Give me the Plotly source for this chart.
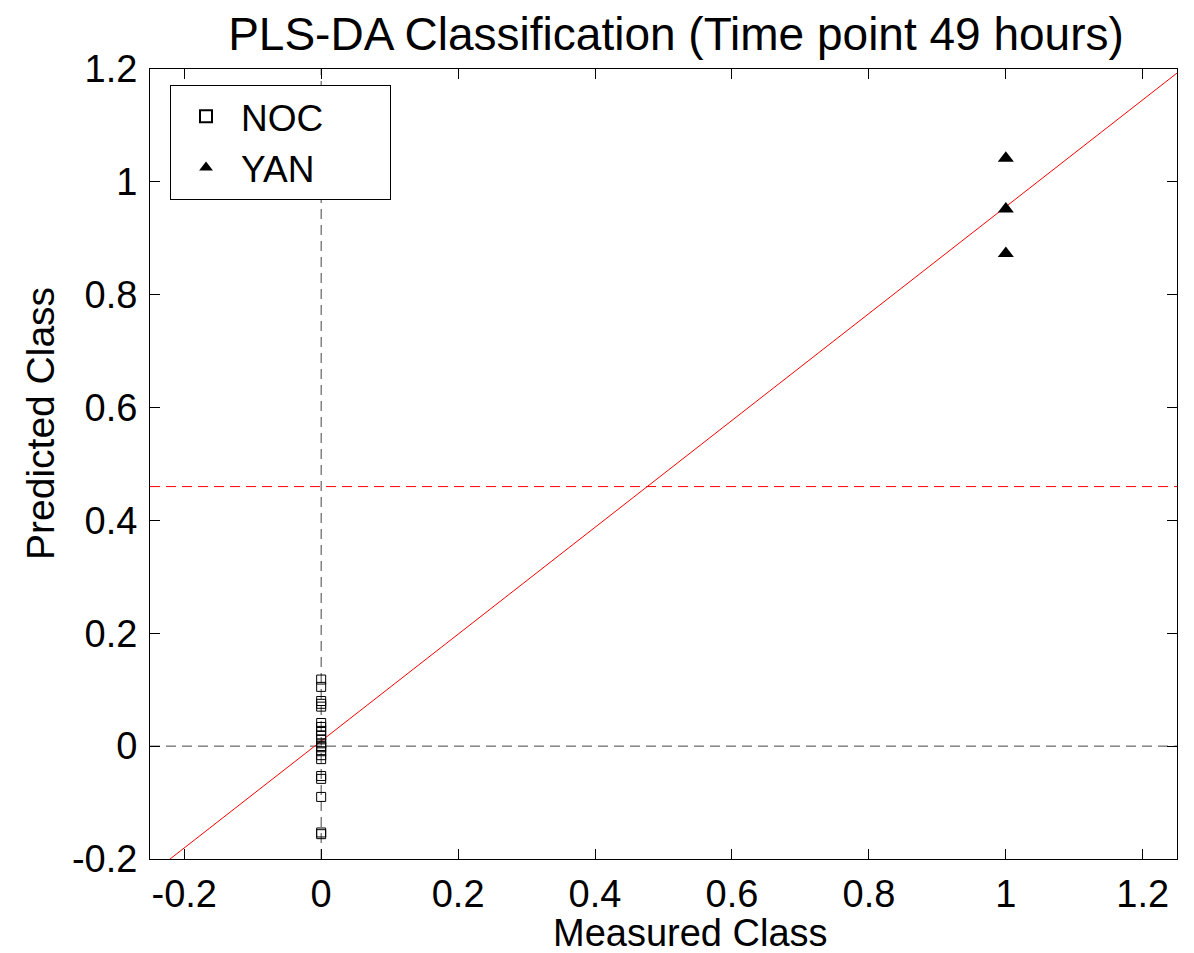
import numpy as np
import plotly.graph_objects as go

# ---- data ----
noc_measured = [0] * 21
noc_predicted = [0.118, 0.105, 0.080, 0.075, 0.070,
                 0.041, 0.034, 0.027, 0.019, 0.012, 0.005, -0.002, -0.009, -0.016, -0.023,
                 -0.053, -0.058, -0.090, -0.153, -0.156, 0.0]
yan_measured = [1, 1, 1]
yan_predicted = [1.042, 0.952, 0.873]
fit_slope = 0.947
fit_intercept = 0.009
threshold = 0.46
x_range = [-0.25, 1.25]
y_range = [-0.2, 1.2]
x_ticks = [-0.2, 0, 0.2, 0.4, 0.6, 0.8, 1, 1.2]
y_ticks = [-0.2, 0, 0.2, 0.4, 0.6, 0.8, 1, 1.2]
tick_text = ["-0.2", "0", "0.2", "0.4", "0.6", "0.8", "1", "1.2"]

FONT = "Liberation Sans, Arial, sans-serif"
PAD = "\u00a0" * 6  # right padding inside the legend box
fig = go.Figure()

# reference lines (dashed grey)
fig.add_trace(go.Scatter(x=[0, 0], y=y_range, mode="lines",
                         line=dict(color="#444444", width=1, dash="10px,6px"),
                         showlegend=False, hoverinfo="skip"))
fig.add_trace(go.Scatter(x=x_range, y=[0, 0], mode="lines",
                         line=dict(color="#444444", width=1, dash="10px,6px"),
                         showlegend=False, hoverinfo="skip"))
# threshold
fig.add_trace(go.Scatter(x=x_range, y=[threshold, threshold], mode="lines",
                         line=dict(color="red", width=1, dash="10px,6px"),
                         showlegend=False, hoverinfo="skip"))
# fit line
fx = np.array(x_range)
fig.add_trace(go.Scatter(x=fx, y=fit_slope * fx + fit_intercept, mode="lines",
                         line=dict(color="red", width=1),
                         showlegend=False, hoverinfo="skip"))

fig.add_trace(go.Scatter(x=noc_measured, y=noc_predicted, mode="markers", name="NOC" + PAD,
                         marker=dict(symbol="square-open", size=9, color="black",
                                     line=dict(width=1, color="black"))))
fig.add_trace(go.Scatter(x=yan_measured, y=yan_predicted, mode="markers", name="YAN" + PAD,
                         marker=dict(symbol="triangle-up", size=14, color="black")))

axis_common = dict(showline=True, linecolor="black", linewidth=1, mirror="ticks",
                   ticks="inside", ticklen=10, tickcolor="black", showgrid=False,
                   zeroline=False, automargin=False,
                   tickfont=dict(family=FONT, size=38, color="black"))

fig.update_xaxes(range=x_range, tickvals=x_ticks, ticktext=tick_text,
                 ticklabelstandoff=1, **axis_common)
fig.update_yaxes(range=y_range, tickvals=y_ticks, ticktext=tick_text,
                 ticklabelstandoff=4, **axis_common)

# axis titles as annotations (positions follow the reference)
fig.add_annotation(text="Measured Class", xref="paper", yref="paper",
                   x=(690 - 150) / 1027, y=(859 - 933) / 790,
                   xanchor="center", yanchor="middle", showarrow=False,
                   font=dict(family=FONT, size=38, color="black"))
fig.add_annotation(text="Predicted Class", xref="paper", yref="paper",
                   x=(41 - 150) / 1027, y=(859 - 424) / 790, textangle=-90,
                   xanchor="center", yanchor="middle", showarrow=False,
                   font=dict(family=FONT, size=39, color="black"))

fig.update_layout(
    width=1186, height=945,
    margin=dict(l=142, r=17, t=61, b=94),
    paper_bgcolor="white", plot_bgcolor="white",
    font=dict(family=FONT, color="black"),
    title=dict(text="PLS-DA Classification (Time point 49 hours)",
               font=dict(family=FONT, size=46, color="black"),
               xref="paper", x=(676 - 150) / 1027, xanchor="center",
               yref="container", y=1 - 26 / 945, yanchor="middle"),
    legend=dict(x=0.0195, y=0.98, xanchor="left", yanchor="top",
                bgcolor="white", bordercolor="black", borderwidth=1,
                itemwidth=60, itemsizing="constant",
                font=dict(family=FONT, size=37, color="black")),
)

fig.write_html("out.html")
